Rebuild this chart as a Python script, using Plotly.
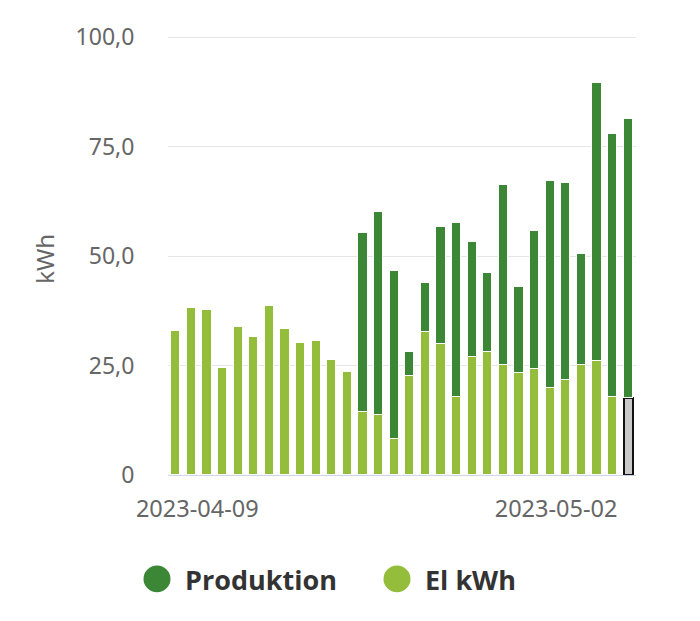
import plotly.graph_objects as go
import pandas as pd

# ---- data ----
dates = pd.date_range("2023-04-08", "2023-05-07", freq="D").strftime("%Y-%m-%d").tolist()
el_kwh = [33.0, 38.2, 37.7, 24.4, 33.9, 31.5, 38.6, 33.4, 30.1, 30.5, 26.2, 23.5,
          14.3, 13.6, 8.3, 22.6, 32.6, 29.9, 17.9, 27.0, 28.0, 25.2, 23.2, 24.1,
          19.9, 21.7, 25.2, 26.0, 17.9, 17.5]
produktion = [None, None, None, None, None, None, None, None, None, None, None, None,
              41.0, 46.4, 38.4, 5.6, 11.2, 26.7, 39.7, 26.3, 18.2, 41.0, 19.7, 31.6,
              47.3, 45.0, 25.3, 63.5, 60.1, 63.9]
y_tickvals = [0, 25, 50, 75, 100]
y_ticktext = ["0", "25,0", "50,0", "75,0", "100,0"]
x_tickvals = ["2023-04-09 09:00", "2023-05-02 09:00"]
x_ticktext = ["2023-04-09", "2023-05-02"]
series_names = ["Produktion", "El kWh"]

DARK = "#3b8736"
LIGHT = "#93bd3a"
GREY = "#c9c9c9"

n = len(dates)
el_colors = [LIGHT] * (n - 1) + [GREY]
el_line_colors = ["#ffffff"] * (n - 1) + ["#111111"]
el_line_widths = [1] * (n - 1) + [2]

bar_w = 0.6 * 86400000

fig = go.Figure()
fig.add_trace(go.Bar(
    x=dates, y=el_kwh, name=series_names[1], width=bar_w,
    marker=dict(color=el_colors, line=dict(color=el_line_colors, width=el_line_widths)),
    showlegend=False,
))
fig.add_trace(go.Bar(
    x=dates, y=produktion, name=series_names[0], width=bar_w,
    marker=dict(color=DARK, line=dict(color="#ffffff", width=1)),
    showlegend=False,
))

OFF = 8  # page body margin
W, H = 700 - OFF, 621 - OFF
YMAX = 100.5
L = 168 - OFF
R = 700 - 636
B = 621 - 475.5
ph = 444.5 * YMAX / 100.0
T = H - B - ph
pw = W - L - R

def px(xp):  # page x -> paper
    return (xp - OFF - L) / pw

def py(yp):  # page y -> paper
    return (H - B - (yp - OFF)) / ph

# manual legend (large circles)
legend_items = [(157, 183, series_names[0], DARK), (397, 423, series_names[1], LIGHT)]
shapes = []
annotations = []
r = 13.5
for cx, tx, label, col in legend_items:
    cy = 581
    shapes.append(dict(type="circle", xref="paper", yref="paper",
                       x0=px(cx - r), x1=px(cx + r), y0=py(cy + r), y1=py(cy - r),
                       fillcolor=col, line=dict(width=0)))
    annotations.append(dict(xref="paper", yref="paper", x=px(tx), y=py(582),
                            xanchor="left", yanchor="middle", showarrow=False,
                            text="<b>%s</b>" % label,
                            font=dict(family="Open Sans", size=27, color="#333333")))

annotations.append(dict(xref="paper", yref="paper", x=px(45), y=py(256),
                        xanchor="center", yanchor="middle", showarrow=False,
                        textangle=-90, text="kWh",
                        font=dict(family="Noto Sans", size=24, color="#666666")))

fig.update_layout(
    width=W, height=H,
    margin=dict(l=L, r=R, t=T, b=B, pad=0),
    paper_bgcolor="white", plot_bgcolor="white",
    barmode="stack", bargap=0,
    font=dict(family="Noto Sans", color="#666666"),
    shapes=shapes, annotations=annotations,
    showlegend=False,
)
fig.update_xaxes(
    type="date",
    range=["2023-04-07 12:00", "2023-05-07 12:00"],
    tickvals=x_tickvals, ticktext=x_ticktext,
    ticks="outside", ticklen=13, tickcolor="rgba(0,0,0,0)",
    tickfont=dict(family="Noto Sans", size=23.5, color="#666666"),
    showgrid=False, showline=True, linecolor="#ccd6eb", linewidth=1,
    zeroline=False,
)
fig.update_yaxes(
    range=[0, YMAX],
    tickvals=y_tickvals, ticktext=y_ticktext,
    ticks="outside", ticklen=28, tickcolor="rgba(0,0,0,0)",
    tickfont=dict(family="Noto Sans", size=23, color="#666666"),
    showgrid=True, gridcolor="#e6e6e6", gridwidth=1,
    zeroline=False, showline=False,
)

fig.write_html("out.html")
